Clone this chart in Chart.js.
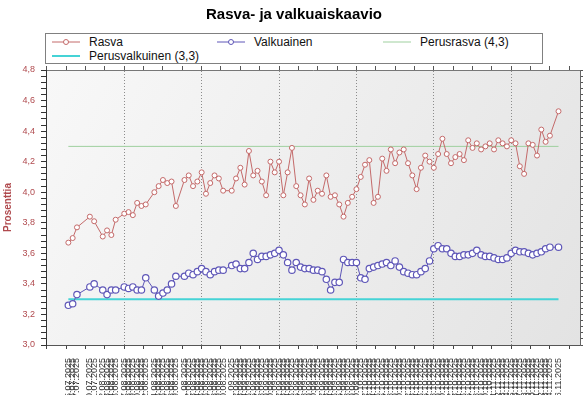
<!DOCTYPE html>
<html>
<head>
<meta charset="utf-8">
<script src="https://cdn.jsdelivr.net/npm/chart.js@4.4.1/dist/chart.umd.min.js"></script>
<style>
  body { margin: 0; background: #fff; }
  #wrap { position: relative; width: 588px; height: 395px; }
  #legend { position: absolute; left: 45px; top: 33px; width: 496px; height: 29px;
            border: 1px solid #808080; background: #fff;
            font: 12px "Liberation Sans", Arial, sans-serif; color: #111; }
  .item { position: absolute; height: 14px; line-height: 14px; white-space: nowrap; }
  .item svg { position: absolute; left: 0; top: 2px; }
  .item span { position: absolute; left: 37px; top: 0; }
</style>
</head>
<body>
<div id="wrap">
  <canvas id="myChart" width="588" height="395"></canvas>
  <div id="legend"></div>
</div>
<script>
// sample dates (dd.mm.yyyy)
let dates = [
  '25.07.2025','26.07.2025','27.07.2025','30.07.2025','31.07.2025',
  '02.08.2025','03.08.2025','04.08.2025','05.08.2025','07.08.2025','08.08.2025','09.08.2025',
  '10.08.2025','11.08.2025','12.08.2025','14.08.2025','15.08.2025','16.08.2025','17.08.2025',
  '18.08.2025','19.08.2025','21.08.2025','22.08.2025','23.08.2025','24.08.2025','25.08.2025',
  '26.08.2025','27.08.2025','28.08.2025','29.08.2025','30.08.2025',
  '01.09.2025','02.09.2025','03.09.2025','04.09.2025','05.09.2025','06.09.2025','07.09.2025',
  '08.09.2025','09.09.2025','10.09.2025','11.09.2025','12.09.2025','13.09.2025','14.09.2025',
  '15.09.2025','16.09.2025','17.09.2025','18.09.2025','19.09.2025','20.09.2025','21.09.2025',
  '22.09.2025','23.09.2025','24.09.2025','25.09.2025','26.09.2025','27.09.2025','28.09.2025',
  '29.09.2025','30.09.2025',
  '01.10.2025','02.10.2025','03.10.2025','04.10.2025','05.10.2025','06.10.2025','07.10.2025',
  '08.10.2025','09.10.2025','10.10.2025','11.10.2025','12.10.2025','13.10.2025','14.10.2025',
  '15.10.2025','16.10.2025','17.10.2025','18.10.2025','19.10.2025','20.10.2025','21.10.2025',
  '22.10.2025','23.10.2025','24.10.2025','25.10.2025','26.10.2025','27.10.2025','28.10.2025',
  '29.10.2025','30.10.2025','31.10.2025',
  '01.11.2025','02.11.2025','03.11.2025','04.11.2025','05.11.2025','06.11.2025','07.11.2025',
  '08.11.2025','09.11.2025','10.11.2025','11.11.2025','12.11.2025','13.11.2025','14.11.2025',
  '16.11.2025'
];

// Rasva %
let rasva = [
  3.67, 3.70, 3.77, 3.84, 3.81,
  3.71, 3.75, 3.72, 3.82, 3.86, 3.87, 3.85,
  3.93, 3.91, 3.92, 4.00, 4.04, 4.08, 4.06,
  4.07, 3.91, 4.08, 4.11, 4.04, 4.07, 4.13,
  3.99, 4.06, 4.11, 4.09, 4.01,
  4.01, 4.09, 4.16, 4.05, 4.27, 4.11, 4.14,
  4.07, 3.98, 4.20, 4.13, 4.20, 3.98, 4.13,
  4.29, 4.04, 3.98, 3.92, 4.09, 3.95, 4.01,
  3.99, 4.11, 3.97, 3.98, 3.92, 3.84, 3.93,
  3.97, 4.02,
  4.10, 4.18, 4.21, 3.93, 3.97, 4.22, 4.14,
  4.28, 4.19, 4.26, 4.28, 4.19, 4.11, 4.02,
  4.16, 4.24, 4.20, 4.16, 4.25, 4.35, 4.25,
  4.19, 4.23, 4.25, 4.21, 4.34, 4.29, 4.32,
  4.28, 4.30, 4.32,
  4.28, 4.34, 4.32, 4.30, 4.34, 4.32, 4.17,
  4.12, 4.32, 4.31, 4.24, 4.41, 4.33, 4.37,
  4.53
];

// Valkuainen %
let valkuainen = [
  3.26, 3.27, 3.33, 3.38, 3.40,
  3.36, 3.33, 3.36, 3.36, 3.38, 3.37, 3.38,
  3.36, 3.36, 3.44, 3.36, 3.32, 3.34, 3.36,
  3.40, 3.45, 3.45, 3.47, 3.46, 3.48, 3.50,
  3.48, 3.46, 3.48, 3.49, 3.49,
  3.52, 3.53, 3.50, 3.50, 3.54, 3.60, 3.56,
  3.58, 3.58, 3.59, 3.60, 3.62, 3.59, 3.54,
  3.49, 3.54, 3.51, 3.50, 3.50, 3.49, 3.49,
  3.48, 3.43, 3.36, 3.41, 3.41, 3.56, 3.54,
  3.54, 3.54,
  3.44, 3.43, 3.50, 3.51, 3.52, 3.53, 3.54,
  3.52, 3.55, 3.51, 3.48, 3.47, 3.46, 3.46,
  3.48, 3.50, 3.55, 3.63, 3.65, 3.63, 3.63,
  3.60, 3.58, 3.58, 3.59, 3.59, 3.60, 3.62,
  3.59, 3.58, 3.58,
  3.57, 3.56, 3.56, 3.57, 3.60, 3.62, 3.61,
  3.61, 3.60, 3.59, 3.60, 3.61, 3.63, 3.64,
  3.64
];

let perusRasva = 4.3;
let perusValkuinen = 3.3;

let seriesNames = ['Rasva', 'Valkuainen', 'Perusrasva (4,3)', 'Perusvalkuinen (3,3)'];
let colors = ['#c46a6a', '#5f57b8', '#9fd09f', '#45d3d6'];

// y axis 3,0 ... 4,8
let yMin = 3.0, yMax = 4.8, yLabelStep = 0.2, yMinorStep = 0.04;

// x axis in days from first sample
function dayNum(s) {
    let p = s.split('.').map(Number);
    return Date.UTC(p[2], p[1] - 1, p[0]) / 86400000;
}
let day0 = dayNum(dates[0]);
let xs = dates.map(d => dayNum(d) - day0);
let xMin = -5.2, xMax = 119;
let majorStart = 13, majorStep = 18, minorStep = 4.5;

let minorVals = [];
for (let v = majorStart - 4 * minorStep; v <= xMax; v += minorStep) minorVals.push(v);
let yTickVals = [];
for (let i = 0; i <= Math.round((yMax - yMin) / yMinorStep); i++) yTickVals.push(yMin + i * yMinorStep);

// every axis gets its own tick objects
let mkTicks = vals => vals.map(v => ({value: v}));

let lastX = xs[xs.length - 1];
let pts = (arr) => arr.map((v, i) => ({x: xs[i], y: v}));

// plot background
const areaBg = {
    id: 'areaBg',
    beforeDraw(chart) {
        const {ctx, chartArea: a} = chart;
        ctx.save();
        ctx.fillStyle = '#fff';
        ctx.fillRect(0, 0, chart.width, chart.height);
        let g = ctx.createLinearGradient(a.left, a.top, a.right, a.bottom);
        g.addColorStop(0, '#f8f8f8');
        g.addColorStop(1, '#e3e3e3');
        ctx.fillStyle = g;
        ctx.fillRect(a.left, a.top, a.right - a.left, a.bottom - a.top);
        ctx.restore();
    }
};

Chart.defaults.font.family = '"Liberation Sans", Arial, sans-serif';

let myChart = new Chart(document.getElementById('myChart').getContext('2d'), {
    type: 'line',
    data: {
        datasets: [{
                label: seriesNames[0],
                data: pts(rasva),
                borderColor: colors[0],
                borderWidth: 1,
                pointRadius: 2.5,
                pointBackgroundColor: '#fff',
                pointBorderColor: colors[0],
                pointBorderWidth: 1,
                tension: 0
            }, {
                label: seriesNames[1],
                data: pts(valkuainen),
                borderColor: colors[1],
                borderWidth: 1,
                pointRadius: 3.2,
                pointBackgroundColor: '#fff',
                pointBorderColor: colors[1],
                pointBorderWidth: 1.2,
                tension: 0
            }, {
                label: seriesNames[2],
                data: [{x: 0, y: perusRasva}, {x: lastX, y: perusRasva}],
                borderColor: colors[2],
                borderWidth: 1,
                pointRadius: 0
            }, {
                label: seriesNames[3],
                data: [{x: 0, y: perusValkuinen}, {x: lastX, y: perusValkuinen}],
                borderColor: colors[3],
                borderWidth: 2,
                pointRadius: 0
            }]
    },
    options: {
        responsive: false,
        animation: false,
        layout: {padding: 0},
        plugins: {
            legend: {display: false},
            tooltip: {enabled: false},
            title: {
                display: true,
                text: 'Rasva- ja valkuaiskaavio',
                color: '#000',
                font: {size: 15, weight: 'bold'},
                padding: {top: 6, bottom: 42}
            }
        },
        scales: {
            x: {
                type: 'linear', position: 'bottom', weight: 1,
                min: xMin, max: xMax,
                afterBuildTicks: a => { a.ticks = mkTicks(xs); },
                ticks: {
                    autoSkip: false, minRotation: 90, maxRotation: 90,
                    font: {size: 9}, color: '#333', padding: 1,
                    callback: v => dates[xs.indexOf(v)]
                },
                grid: {display: false},
                border: {display: false},
                afterFit: s => { s.height = 46; }
            },
            xb: {
                type: 'linear', position: 'bottom', weight: 0,
                min: xMin, max: xMax,
                afterBuildTicks: a => { a.ticks = mkTicks(minorVals); },
                ticks: {display: false},
                grid: {drawOnChartArea: false, tickLength: 4, tickColor: '#444'},
                border: {color: '#555'},
                afterFit: s => { s.height = 4; }
            },
            xt: {
                type: 'linear', position: 'top',
                min: xMin, max: xMax,
                afterBuildTicks: a => { a.ticks = mkTicks(minorVals); },
                ticks: {display: false},
                grid: {
                    color: c => (c.tick && (c.tick.value - majorStart) % majorStep === 0) ? '#8c8c8c' : 'rgba(0,0,0,0)',
                    tickColor: '#555', tickLength: 4, lineWidth: 1
                },
                border: {color: '#777', dash: [1, 2]},
                afterFit: s => { s.height = 4; }
            },
            y: {
                position: 'left',
                min: yMin, max: yMax,
                afterBuildTicks: a => { a.ticks = mkTicks(yTickVals); },
                ticks: {
                    autoSkip: false,
                    color: '#b04a4e', font: {size: 9}, padding: 6,
                    callback: v => {
                        let k = (v - yMin) / yLabelStep;
                        return Math.abs(k - Math.round(k)) < 1e-6 ? v.toFixed(1).replace('.', ',') : '';
                    }
                },
                grid: {drawOnChartArea: false, tickLength: 5, tickColor: '#333'},
                border: {color: '#333'},
                title: {display: true, text: 'Prosenttia', color: '#b04a4e', font: {size: 10, weight: 'bold'}, padding: {top: 2, bottom: 0}},
                afterFit: s => { s.width = 46; }
            },
            yr: {
                position: 'right',
                min: yMin, max: yMax,
                afterBuildTicks: a => { a.ticks = mkTicks(yTickVals); },
                ticks: {display: false},
                grid: {drawOnChartArea: false, tickLength: 3, tickColor: '#555'},
                border: {color: '#666'},
                afterFit: s => { s.width = 8; }
            }
        }
    },
    plugins: [areaBg]
});

// legend box
let legendPos = [[6, 1], [171, 1], [337, 1], [6, 15]];
let legendHtml = '';
seriesNames.forEach((name, i) => {
    let marker = '<line x1="0" y1="5" x2="28" y2="5" stroke="' + colors[i] + '" stroke-width="' + (i === 3 ? 2 : 1) + '"/>';
    if (i < 2) marker += '<circle cx="14" cy="5" r="2.5" fill="#fff" stroke="' + colors[i] + '" stroke-width="1"/>';
    legendHtml += '<div class="item" style="left:' + legendPos[i][0] + 'px;top:' + legendPos[i][1] + 'px">' +
        '<svg width="28" height="10">' + marker + '</svg><span>' + name + '</span></div>';
});
document.getElementById('legend').innerHTML = legendHtml;
</script>
</body>
</html>
